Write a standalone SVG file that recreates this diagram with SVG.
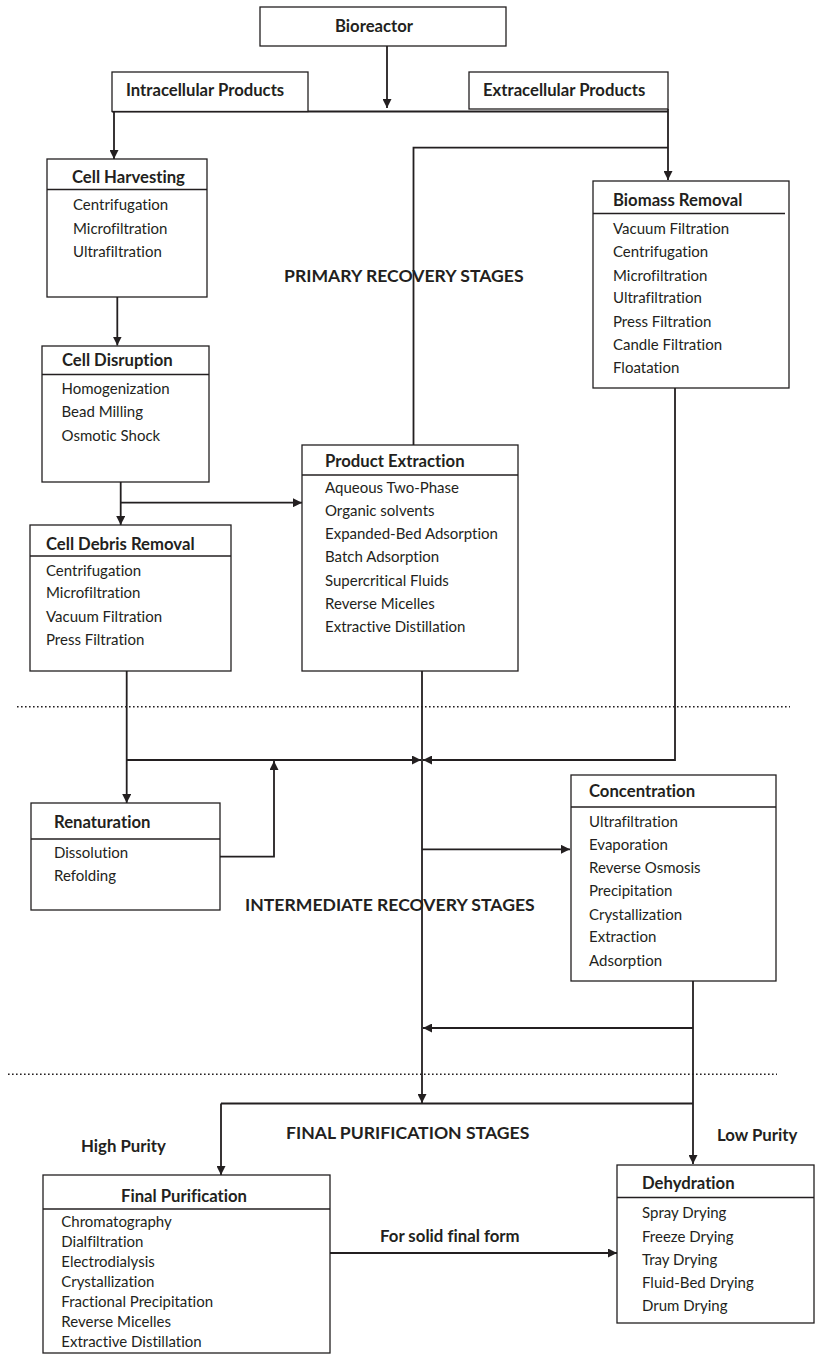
<svg xmlns="http://www.w3.org/2000/svg" width="815" height="1361" viewBox="0 0 815 1361">
  <style>
    .box { fill: #ffffff; stroke: #231f20; stroke-width: 1.3; }
    .div { stroke: #231f20; stroke-width: 1.3; fill: none; }
    .wire { stroke: #231f20; stroke-width: 1.8; fill: none; }
    .dots { stroke: #231f20; stroke-width: 1.6; stroke-dasharray: 1.6 2.4; fill: none; }
    text { font-family: Lato, "Open Sans", "Liberation Sans", sans-serif; fill: #231f20; font-variant-ligatures: none; }
    .title { font-size: 16.7px; font-weight: bold; }
    .item { font-size: 15px; }
    .stage { font-size: 17.6px; font-weight: bold; }
    .lbl { font-size: 16.8px; font-weight: bold; }
  </style>
  <defs>
    <marker id="arrow" viewBox="0 0 10 10" refX="10" refY="5" markerWidth="9" markerHeight="9" markerUnits="userSpaceOnUse" orient="auto">
      <path d="M0,0 L10,5 L0,10 z" fill="#231f20"/>
    </marker>
  </defs>

  <rect width="815" height="1361" fill="#ffffff"/>

  <!-- stage separators -->
  <g id="separators">
    <path class="dots" d="M17,706.7 H790"/>
    <path class="dots" d="M8,1074.3 H777"/>
  </g>

  <!-- connectors -->
  <g id="connectors">
    <path class="wire" d="M387,46 V108" marker-end="url(#arrow)"/>
    <path class="wire" d="M112,111.5 H668"/>
    <path class="wire" d="M668,109 V180" marker-end="url(#arrow)"/>
    <path class="wire" d="M114,111.5 V159" marker-end="url(#arrow)"/>
    <path class="wire" d="M413.5,445 V147.7 H668"/>
    <path class="wire" d="M117.3,297 V345.5" marker-end="url(#arrow)"/>
    <path class="wire" d="M120.7,482 V525" marker-end="url(#arrow)"/>
    <path class="wire" d="M120.7,502.7 H302" marker-end="url(#arrow)"/>
    <path class="wire" d="M126.7,671 V803" marker-end="url(#arrow)"/>
    <path class="wire" d="M126.7,760 H421" marker-end="url(#arrow)"/>
    <path class="wire" d="M675,388 V760 H423" marker-end="url(#arrow)"/>
    <path class="wire" d="M422,671 V1103" marker-end="url(#arrow)"/>
    <path class="wire" d="M220,856.7 H274 V761" marker-end="url(#arrow)"/>
    <path class="wire" d="M422,849.3 H570" marker-end="url(#arrow)"/>
    <path class="wire" d="M693,981 V1164" marker-end="url(#arrow)"/>
    <path class="wire" d="M693,1028 H423" marker-end="url(#arrow)"/>
    <path class="wire" d="M221,1103.5 H693"/>
    <path class="wire" d="M221,1103.5 V1175" marker-end="url(#arrow)"/>
    <path class="wire" d="M330,1253 H617" marker-end="url(#arrow)"/>
  </g>

  <g id="bioreactor">
    <rect class="box" x="260" y="7" width="246" height="39"/>
    <text class="title" x="335" y="32">Bioreactor</text>
  </g>

  <g id="intracellular">
    <rect class="box" x="112" y="72" width="196" height="39.5"/>
    <text class="title" x="126" y="96">Intracellular Products</text>
  </g>

  <g id="extracellular">
    <rect class="box" x="469" y="72" width="199" height="37"/>
    <text class="title" x="483" y="96">Extracellular Products</text>
  </g>

  <g id="cell-harvesting">
    <rect class="box" x="47" y="159" width="160" height="138"/>
    <path class="div" d="M47,189.5 H207"/>
    <text class="title" x="72" y="183">Cell Harvesting</text>
    <text class="item" x="73" y="210">Centrifugation</text>
    <text class="item" x="73" y="234">Microfiltration</text>
    <text class="item" x="73" y="257">Ultrafiltration</text>
  </g>

  <g id="cell-disruption">
    <rect class="box" x="42" y="346" width="167" height="136"/>
    <path class="div" d="M42,374.5 H209"/>
    <text class="title" x="62" y="366">Cell Disruption</text>
    <text class="item" x="61.5" y="394">Homogenization</text>
    <text class="item" x="61.5" y="417">Bead Milling</text>
    <text class="item" x="61.5" y="441">Osmotic Shock</text>
  </g>

  <g id="cell-debris-removal">
    <rect class="box" x="30" y="525" width="201" height="146"/>
    <path class="div" d="M30,556 H231"/>
    <text class="title" x="46" y="550">Cell Debris Removal</text>
    <text class="item" x="46" y="575.5">Centrifugation</text>
    <text class="item" x="46" y="598">Microfiltration</text>
    <text class="item" x="46" y="621.5">Vacuum Filtration</text>
    <text class="item" x="46" y="645">Press Filtration</text>
  </g>

  <g id="product-extraction">
    <rect class="box" x="302" y="445" width="216" height="226"/>
    <path class="div" d="M302,475 H518"/>
    <text class="title" x="325" y="467">Product Extraction</text>
    <text class="item" x="325" y="492.5">Aqueous Two-Phase</text>
    <text class="item" x="325" y="515.8">Organic solvents</text>
    <text class="item" x="325" y="539.1">Expanded-Bed Adsorption</text>
    <text class="item" x="325" y="562.4">Batch Adsorption</text>
    <text class="item" x="325" y="585.7">Supercritical Fluids</text>
    <text class="item" x="325" y="609">Reverse Micelles</text>
    <text class="item" x="325" y="632.3">Extractive Distillation</text>
  </g>

  <g id="biomass-removal">
    <rect class="box" x="593" y="181" width="196" height="207"/>
    <path class="div" d="M593,213.5 H785"/>
    <text class="title" x="613" y="206">Biomass Removal</text>
    <text class="item" x="613" y="233.5">Vacuum Filtration</text>
    <text class="item" x="613" y="257">Centrifugation</text>
    <text class="item" x="613" y="280.5">Microfiltration</text>
    <text class="item" x="613" y="303">Ultrafiltration</text>
    <text class="item" x="613" y="326.5">Press Filtration</text>
    <text class="item" x="613" y="350">Candle Filtration</text>
    <text class="item" x="613" y="373">Floatation</text>
  </g>

  <g id="renaturation">
    <rect class="box" x="31" y="803" width="189" height="107"/>
    <path class="div" d="M31,839 H220"/>
    <text class="title" x="54" y="828">Renaturation</text>
    <text class="item" x="54" y="858">Dissolution</text>
    <text class="item" x="54" y="881">Refolding</text>
  </g>

  <g id="concentration">
    <rect class="box" x="571" y="775" width="205" height="206"/>
    <path class="div" d="M571,807 H776"/>
    <text class="title" x="589" y="797">Concentration</text>
    <text class="item" x="589" y="826.5">Ultrafiltration</text>
    <text class="item" x="589" y="849.5">Evaporation</text>
    <text class="item" x="589" y="872.5">Reverse Osmosis</text>
    <text class="item" x="589" y="895.5">Precipitation</text>
    <text class="item" x="589" y="919.5">Crystallization</text>
    <text class="item" x="589" y="942">Extraction</text>
    <text class="item" x="589" y="965.5">Adsorption</text>
  </g>

  <g id="final-purification">
    <rect class="box" x="43" y="1175" width="287" height="178"/>
    <path class="div" d="M43,1209 H330"/>
    <text class="title" x="184" y="1202" text-anchor="middle">Final Purification</text>
    <text class="item" x="61.3" y="1226.5">Chromatography</text>
    <text class="item" x="61.3" y="1246.5">Dialfiltration</text>
    <text class="item" x="61.3" y="1267">Electrodialysis</text>
    <text class="item" x="61.3" y="1287">Crystallization</text>
    <text class="item" x="61.3" y="1307">Fractional Precipitation</text>
    <text class="item" x="61.3" y="1327">Reverse Micelles</text>
    <text class="item" x="61.3" y="1347">Extractive Distillation</text>
  </g>

  <g id="dehydration">
    <rect class="box" x="617" y="1165" width="197" height="158"/>
    <path class="div" d="M617,1197.5 H814"/>
    <text class="title" x="642" y="1189">Dehydration</text>
    <text class="item" x="642" y="1218">Spray Drying</text>
    <text class="item" x="642" y="1241.5">Freeze Drying</text>
    <text class="item" x="642" y="1264.5">Tray Drying</text>
    <text class="item" x="642" y="1287.5">Fluid-Bed Drying</text>
    <text class="item" x="642" y="1310.5">Drum Drying</text>
  </g>

  <g id="labels">
    <text class="stage" x="284" y="282">PRIMARY RECOVERY STAGES</text>
    <text class="stage" x="245" y="911">INTERMEDIATE RECOVERY STAGES</text>
    <text class="stage" x="286" y="1139">FINAL PURIFICATION STAGES</text>
    <text class="lbl" x="81" y="1152">High Purity</text>
    <text class="lbl" x="717" y="1141">Low Purity</text>
    <text class="lbl" x="380" y="1242">For solid final form</text>
  </g>
</svg>
